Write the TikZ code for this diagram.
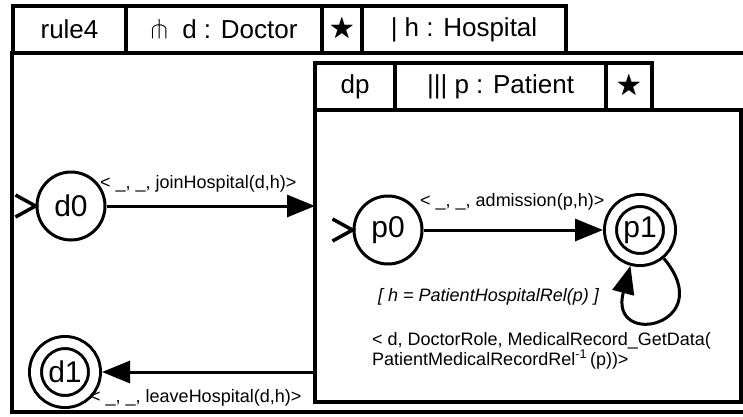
\documentclass[tikz,border=0pt]{standalone}
\usepackage{amssymb}
\usepackage{fontspec}
\setmainfont{Liberation Sans}
\usetikzlibrary{arrows.meta}

\begin{document}
\begin{tikzpicture}[x=1pt, y=-1pt,
    state/.style={circle, draw, line width=3pt, minimum size=68pt, inner sep=0pt,
        outer sep=1.5pt, font=\fontsize{30}{30}\selectfont},
    final/.style={state, double, double distance=9pt, minimum size=59pt, outer sep=7.5pt},
    tab/.style={draw, line width=3.5pt, minimum height=47pt, inner sep=0pt, outer sep=0pt,
        anchor=north west, font=\fontsize{26}{26}\selectfont},
    lbl/.style={inner sep=0pt, font=\fontsize{18}{20}\selectfont},
    trans/.style={line width=3pt, -{Triangle[length=28pt,width=22pt]}},
    init/.style={line width=3.5pt}]
\clip (0,0) rectangle (743,416);
\fill[white] (0,0) rectangle (743,416);
% rule frame
\draw[line width=3.5pt] (12,53) rectangle (770,412);
\node[tab, minimum width=113pt] (rule) at (13,6) {rule4};
\node[tab, minimum width=196pt] (role) at (rule.north east) {$\pitchfork$\ \ d : Doctor};
\node[tab, minimum width=40pt] (dstar) at (role.north east) {$\bigstar$};
\node[tab, minimum width=204pt] (hosp) at (dstar.north east) {| h : Hospital};
% dp frame
\draw[line width=3.5pt] (315,110) rectangle (741,402);
\node[tab, minimum width=80pt] (dp) at (315,63) {dp};
\node[tab, minimum width=211pt] (pat) at (dp.north east) {||| p : Patient};
\node[tab, minimum width=46pt] (pstar) at (pat.north east) {$\bigstar$};
% states
\node[state] (d0) at (71,206) {d0};
\node[final] (d1) at (65,372) {d1};
\node[state] (p0) at (388,230) {p0};
\node[final] (p1) at (640,230) {p1};
\coordinate (dpin) at (315,206);
\coordinate (dpout) at (315,372);
\foreach \s in {d0, p0}
    \draw[init] (\s.west) ++(-20,-11) -- (\s.west) -- ++(-20,11);
% transitions
\draw[trans] (d0) -- (dpin);
\draw[trans] (p0) -- (p1);
\draw[trans] (dpout) -- (d1);
\draw[trans] (p1) to[out=-50, in=-105, looseness=6.5] (p1);
% labels
\node[lbl, anchor=base west] (join) at (100,188) {< \_, \_, joinHospital(d,h)>};
\node[lbl, anchor=base west] (adm) at (420,206) {< \_, \_, admission(p,h)>};
\node[lbl, anchor=west] (guard) at (378,297) {\itshape [ h = PatientHospitalRel(p) ]};
\node[lbl, anchor=north west, align=left] (out) at (372,332)
    {< d, DoctorRole, MedicalRecord\_GetData(\\ PatientMedicalRecordRel\textsuperscript{-1}\,(p))>};
\node[lbl, anchor=west] (leave) at (90,398) {< \_, \_, leaveHospital(d,h)>};
\end{tikzpicture}
\end{document}
